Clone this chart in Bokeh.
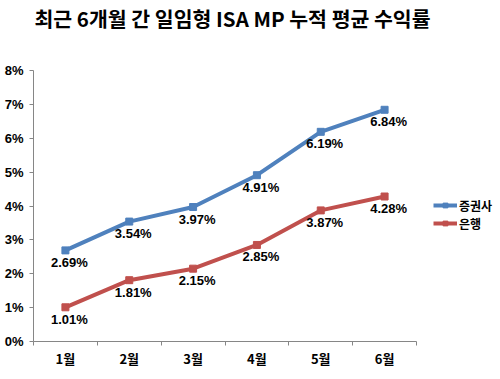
from bokeh.plotting import figure
from bokeh.models import (ColumnDataSource, FixedTicker, Range1d, Legend, LegendItem, Title)
from bokeh.core.properties import value
from bokeh.embed import file_html
from bokeh.resources import INLINE

months = ["1월", "2월", "3월", "4월", "5월", "6월"]
securities = [2.69, 3.54, 3.97, 4.91, 6.19, 6.84]
banks = [1.01, 1.81, 2.15, 2.85, 3.87, 4.28]
series_names = ["증권사", "은행"]
y_ticks = [0, 1, 2, 3, 4, 5, 6, 7, 8]
title_text = "최근 6개월 간 일임형 ISA MP 누적 평균 수익률"

BLUE = "#4F81BD"
RED = "#C0504D"
KFONT = "Noto Sans CJK KR"

xs = list(range(1, len(months) + 1))

p = figure(frame_width=383, frame_height=271, output_backend="svg", toolbar_location=None,
           x_range=Range1d(0.5, len(months) + 0.5), y_range=Range1d(0, 8),
           min_border_left=33, min_border_right=70, min_border_top=0, min_border_bottom=28)
p.outline_line_color = None
p.xgrid.visible = False
p.ygrid.visible = False
p.background_fill_color = "white"
p.border_fill_color = "white"

t = Title(text=title_text, align="left", offset=1, text_font=KFONT, text_font_size="20.5px",
          text_font_style="bold", text_color="#000000", standoff=0,
          padding=dict(left=0, right=0, top=0, bottom=38))
p.add_layout(t, "above")

# axes
p.xaxis.ticker = FixedTicker(ticks=xs, minor_ticks=[x + 0.5 for x in range(0, len(months) + 1)])
p.xaxis.major_label_overrides = {x: m for x, m in zip(xs, months)}
p.xaxis.major_tick_line_color = None
p.xaxis.major_tick_out = 0
p.xaxis.major_tick_in = 0
p.xaxis.minor_tick_line_color = "#868686"
p.xaxis.minor_tick_out = 4
p.xaxis.minor_tick_in = 0
p.xaxis.axis_line_color = "#868686"
p.xaxis.major_label_text_font = KFONT
p.xaxis.major_label_text_font_style = "bold"
p.xaxis.major_label_text_font_size = "13px"
p.xaxis.major_label_text_color = "#000000"
p.xaxis.major_label_standoff = 3

p.yaxis.ticker = FixedTicker(ticks=y_ticks, minor_ticks=[])
p.yaxis.major_label_overrides = {v: f"{v}%" for v in y_ticks}
p.yaxis.major_tick_line_color = "#868686"
p.yaxis.major_tick_out = 4
p.yaxis.major_tick_in = 0
p.yaxis.axis_line_color = "#868686"
p.yaxis.major_label_text_font = "Liberation Sans"
p.yaxis.major_label_text_font_style = "bold"
p.yaxis.major_label_text_font_size = "13px"
p.yaxis.major_label_text_color = "#000000"
p.yaxis.major_label_standoff = 6

items = []
for vals, color, name in [(securities, BLUE, series_names[0]), (banks, RED, series_names[1])]:
    src = ColumnDataSource(dict(x=xs, y=vals, lab=[f"{v:.2f}%" for v in vals]))
    l = p.line("x", "y", source=src, line_color=color, line_width=4)
    m = p.scatter("x", "y", source=src, marker="square", size=7, fill_color=color, line_color=color)
    p.text("x", "y", text="lab", source=src, x_offset=4, y_offset=12,
           text_align="center", text_baseline="middle",
           text_font=value("Liberation Sans"), text_font_style="bold",
           text_font_size="13px", text_color="#000000")
    items.append(LegendItem(label=name, renderers=[l, m]))

legend = Legend(items=items, location=(17, 109), orientation="vertical",
                label_text_font=KFONT, label_text_font_style="bold", label_text_font_size="12px",
                label_text_color="#000000", glyph_width=24, glyph_height=12, spacing=0,
                padding=2, margin=0, border_line_color=None, background_fill_alpha=0,
                label_standoff=2, label_height=18)
p.add_layout(legend, "right")

open("out.html", "w").write(file_html(p, INLINE))
